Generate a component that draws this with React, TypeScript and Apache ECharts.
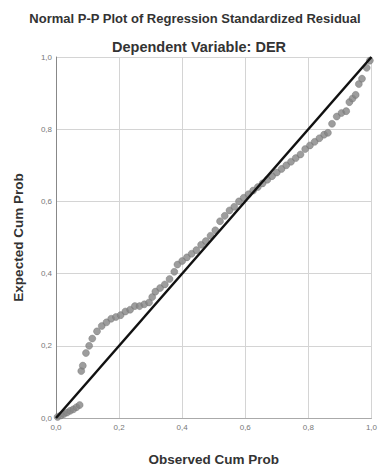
import React, { useEffect, useRef } from "react";
import * as echarts from "echarts";

const titleText = "Normal P-P Plot of Regression Standardized Residual";
const subtitleText = "Dependent Variable: DER";
const xAxisName = "Observed Cum Prob";
const yAxisName = "Expected Cum Prob";
const tickLabels = ["0,0", "0,2", "0,4", "0,6", "0,8", "1,0"];

const observed = [
  0.005, 0.015, 0.025, 0.035, 0.045, 0.055, 0.065, 0.075,
  0.08, 0.085, 0.095, 0.105, 0.115, 0.13, 0.145, 0.16, 0.175, 0.19,
  0.205, 0.22, 0.235, 0.25, 0.265, 0.28, 0.295, 0.305, 0.315, 0.33,
  0.345, 0.36, 0.375, 0.385, 0.4, 0.415, 0.43, 0.445, 0.46, 0.475,
  0.49, 0.505, 0.52, 0.535, 0.55, 0.565, 0.58, 0.595, 0.61, 0.625,
  0.64, 0.655, 0.67, 0.685, 0.7, 0.715, 0.73, 0.745, 0.76, 0.775,
  0.79, 0.805, 0.82, 0.835, 0.85, 0.862, 0.875, 0.89, 0.905, 0.92,
  0.93, 0.94, 0.95, 0.96, 0.97, 0.985, 0.995,
];
const expected = [
  0.003, 0.007, 0.011, 0.015, 0.02, 0.024, 0.03, 0.036,
  0.13, 0.145, 0.18, 0.2, 0.22, 0.24, 0.255, 0.265, 0.275, 0.28,
  0.285, 0.295, 0.3, 0.31, 0.31, 0.315, 0.32, 0.335, 0.35, 0.36,
  0.37, 0.385, 0.405, 0.425, 0.435, 0.445, 0.455, 0.465, 0.48, 0.49,
  0.505, 0.52, 0.545, 0.56, 0.575, 0.585, 0.6, 0.61, 0.62, 0.63,
  0.64, 0.65, 0.66, 0.67, 0.68, 0.69, 0.7, 0.71, 0.72, 0.73,
  0.745, 0.755, 0.765, 0.775, 0.785, 0.79, 0.815, 0.835, 0.845, 0.85,
  0.875, 0.885, 0.895, 0.925, 0.94, 0.97, 0.99,
];
const refLine = [
  [0, 0],
  [1, 1],
];

export default function App() {
  const ref = useRef<HTMLDivElement>(null);
  useEffect(() => {
    if (!ref.current) return;
    const chart = echarts.init(ref.current, null, { renderer: "svg" });
    const fmt = (v: number) => tickLabels[Math.round(v * 5)] ?? "";
    const nameStyle = { fontFamily: "Liberation Sans", fontSize: 13.5, fontWeight: "bold", color: "#333" };
    chart.setOption({
      animation: false,
      backgroundColor: "#ffffff",
      title: [
        {
          text: titleText,
          left: 190,
          textAlign: "center",
          top: 7,
          textStyle: { ...nameStyle, fontSize: 13 },
        },
        {
          text: subtitleText,
          left: 194,
          textAlign: "center",
          top: 34,
          textStyle: { ...nameStyle, fontSize: 14.5 },
        },
      ],
      grid: { left: 56, right: 3, top: 57, bottom: 52, containLabel: false },
      xAxis: {
        type: "value",
        min: 0,
        max: 1,
        interval: 0.2,
        name: xAxisName,
        nameLocation: "middle",
        nameGap: 34,
        nameTextStyle: nameStyle,
        axisLine: { show: true, lineStyle: { color: "#aaa", width: 1 } },
        axisTick: { show: false },
        axisLabel: { formatter: fmt, fontFamily: "Liberation Sans", fontSize: 8, color: "#777", margin: 5 },
        splitLine: { show: true, lineStyle: { color: "#d4d4d4", width: 1 } },
      },
      yAxis: {
        type: "value",
        min: 0,
        max: 1,
        interval: 0.2,
        name: yAxisName,
        nameLocation: "middle",
        nameGap: 31,
        nameTextStyle: nameStyle,
        axisLine: { show: true, lineStyle: { color: "#888", width: 1 } },
        axisTick: { show: false },
        axisLabel: { formatter: fmt, fontFamily: "Liberation Sans", fontSize: 8, color: "#777", margin: 4 },
        splitLine: { show: true, lineStyle: { color: "#d4d4d4", width: 1 } },
      },
      series: [
        {
          type: "scatter",
          data: observed.map((x, i) => [x, expected[i]]),
          symbol: "circle",
          symbolSize: 7,
          itemStyle: { color: "#858585", borderColor: "#707070", borderWidth: 0.5 },
          z: 2,
        },
        {
          type: "line",
          data: refLine,
          symbol: "none",
          lineStyle: { color: "#111", width: 2.5 },
          z: 3,
        },
      ],
    });
    return () => chart.dispose();
  }, []);
  return <div ref={ref} style={{ width: 380, height: 471, position: "absolute", left: 0, top: 0 }} />;
}
